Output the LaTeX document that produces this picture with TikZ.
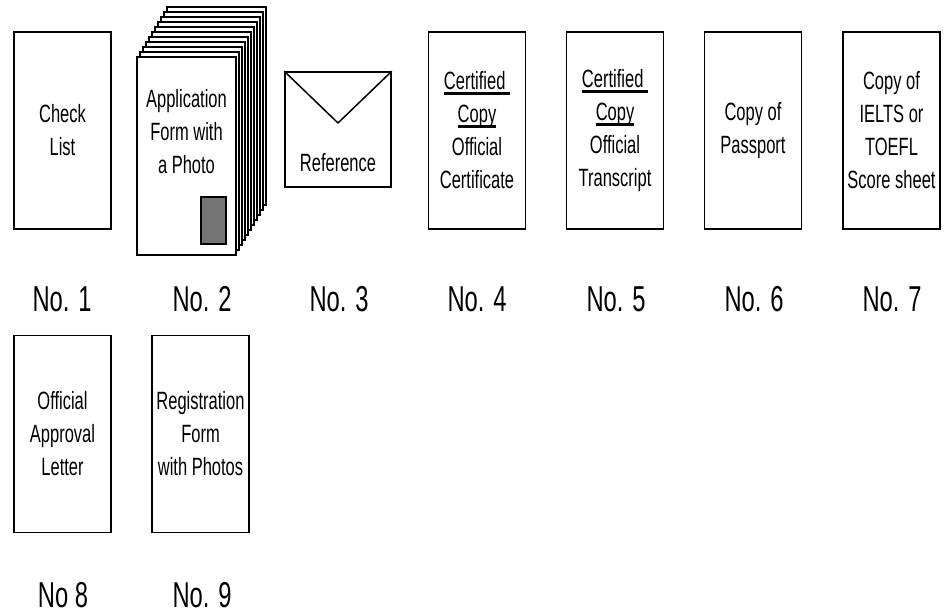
\documentclass[tikz,border=0pt]{standalone}
\usepackage{fontspec}
\setmainfont[FakeStretch=0.66]{Liberation Sans}
\newcommand\myul[1]{\setbox0\hbox{#1}\rlap{\rule[-5.5pt]{\wd0}{3pt}}\box0}
\tikzset{
  doc/.style={draw=black, line width=1.5pt, fill=white, minimum width=97pt, minimum height=197pt, inner sep=0pt, align=center, font=\fontsize{25}{33}\selectfont},
  page/.style={draw=black, line width=1.3pt, fill=white},
  txt/.style={inner sep=0pt, align=center, font=\fontsize{25}{33}\selectfont},
  lbl/.style={inner sep=0pt, font=\fontsize{36}{40}\selectfont}
}
\begin{document}
\begin{tikzpicture}[x=1pt,y=-1pt]
\useasboundingbox (0,0) rectangle (949,615);
% No. 1
\node[doc] (b1) at (62.5,130.5) {Check\\List};
% No. 2 stack
\foreach \k in {10,9,...,1}{
  \draw[page] ({137+3*\k},{57-5*\k}) rectangle ({236+3*\k},{255-5*\k});
}
\node[doc, minimum width=99pt, minimum height=198pt] (b2) at (186.5,156) {};
\node[txt] (t2) at (186.5,132) {Application\\Form with\\a Photo};
\node[draw=black, line width=1.3pt, fill=black!55, minimum width=25pt, minimum height=47pt, inner sep=0pt] (ph) at (213.5,220.5) {};
% No. 3 envelope
\node[draw=black, line width=1.5pt, minimum width=106pt, minimum height=115pt, inner sep=0pt] (b3) at (338,129.5) {};
\coordinate (apex) at (338,123);
\draw[line width=1.5pt, line join=round] (b3.north west) -- (apex) -- (b3.north east);
\node[txt] (t3) at (338,163) {Reference};
% No. 4 - 7
\node[doc] (b4) at (477,130.5) {\myul{Certified\ }\\\myul{Copy}\\Official\\Certificate};
\node[doc] (b5) at (615,130.5) {\myul{Certified\ }\\\myul{Copy}\\Official\\Transcript};
\node[doc] (b6) at (753,130.5) {Copy of\\Passport};
\node[doc] (b7) at (891.5,130.5) {Copy of\\IELTS or\\TOEFL\\Score sheet};
% row 2
\node[doc] (b8) at (62.5,434) {Official\\Approval\\Letter};
\node[doc] (b9) at (200.5,434) {Registration\\Form\\with Photos};
% labels
\node[lbl] (n1) at (62,299) {No. 1};
\node[lbl] (n2) at (202,299) {No. 2};
\node[lbl] (n3) at (339,299) {No. 3};
\node[lbl] (n4) at (477,299) {No. 4};
\node[lbl] (n5) at (616,299) {No. 5};
\node[lbl] (n6) at (754,299) {No. 6};
\node[lbl] (n7) at (892,299) {No. 7};
\node[lbl] (n8) at (63,595) {No 8};
\node[lbl] (n9) at (202,595) {No. 9};
\end{tikzpicture}
\end{document}
